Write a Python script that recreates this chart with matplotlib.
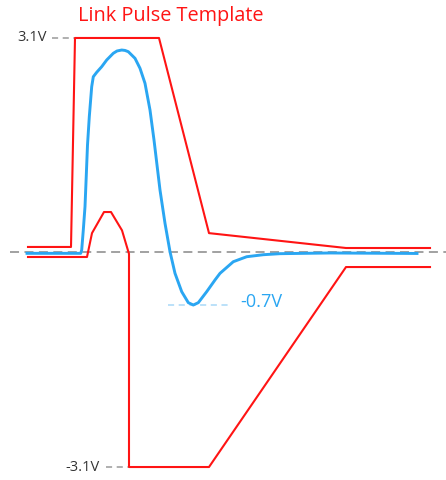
import numpy as np
import matplotlib.pyplot as plt

plt.rcParams['font.family'] = ['Open Sans', 'DejaVu Sans']

# time axis in arbitrary units (ns-ish), voltages in V
upper_t = [28, 71, 75, 159, 209, 346, 430]
upper_v = [0.08, 0.08, 3.1, 3.1, 0.28, 0.065, 0.065]

lower_t = [28, 87, 92, 104, 111, 122, 129, 129, 209, 346, 430]
lower_v = [-0.065, -0.065, 0.28, 0.585, 0.585, 0.32, -0.02, -3.1, -3.1, -0.21, -0.21]

pulse_t = [27, 80.7, 81.7, 83.3, 85, 86.3, 87.5, 89.3, 91.7, 93.3, 96.7, 101.7,
           106.7, 113.3, 117, 121.7, 125, 128.3, 135, 140, 145, 150, 154, 160,
           165, 170, 175, 181.7, 188.3, 193.3, 198.3, 206.7, 215, 220, 233.3,
           246.7, 263.3, 280, 330, 417]
pulse_v = [-0.012, -0.012, 0.036, 0.325, 0.662, 1.12, 1.553, 1.962, 2.396, 2.54,
           2.604, 2.685, 2.782, 2.879, 2.912, 2.926, 2.92, 2.902, 2.806, 2.662,
           2.445, 2.059, 1.626, 0.903, 0.422, 0.012, -0.301, -0.566, -0.725,
           -0.759, -0.725, -0.566, -0.397, -0.301, -0.133, -0.061, -0.032,
           -0.017, -0.007, -0.014]

v_top = 3.1
v_bot = -3.1
v_min = -0.76

red = '#ff1414'
blue = '#2aa6f2'
grey = '#9a9a9a'

fig = plt.figure(figsize=(4.46, 4.8), dpi=100)
ax = fig.add_axes([0, 0, 1, 1])
ax.set_xlim(0, 446)
ax.set_ylim((252.5 - 480) / 69.2, 252.5 / 69.2)
ax.axis('off')

# reference dashes
ax.plot([10, 446], [0, 0], color=grey, lw=1.3, ls=(0, (5, 3)), zorder=1)
ax.plot([52, 75], [v_top, v_top], color=grey, lw=1.1, ls=(0, (4, 3)), zorder=1)
ax.plot([106, 209], [v_bot, v_bot], color=grey, lw=1.1, ls=(0, (4, 3)), zorder=1)
ax.plot([168, 230], [v_min, v_min], color='#a8d8f8', lw=1.1, ls=(0, (4, 3)), zorder=1)

ax.plot(upper_t, upper_v, color=red, lw=1.5, zorder=3)
ax.plot(lower_t, lower_v, color=red, lw=1.5, zorder=3)
ax.plot(pulse_t, pulse_v, color=blue, lw=2.1, zorder=2, solid_joinstyle='round')

ax.text(47, v_top, '3.1V', ha='right', va='center', fontsize=10.5, color='#333333')
ax.text(100, v_bot, '-3.1V', ha='right', va='center', fontsize=10.5, color='#333333')
ax.text(240, v_min + 0.05, '-0.7V', ha='left', va='center', fontsize=13, color=blue)
ax.text(78, 252.5 / 69.2 - 16.5 / 69.2, 'Link Pulse Template', ha='left', va='center',
        fontsize=14.3, color=red)

plt.savefig('out.png', dpi=100)
